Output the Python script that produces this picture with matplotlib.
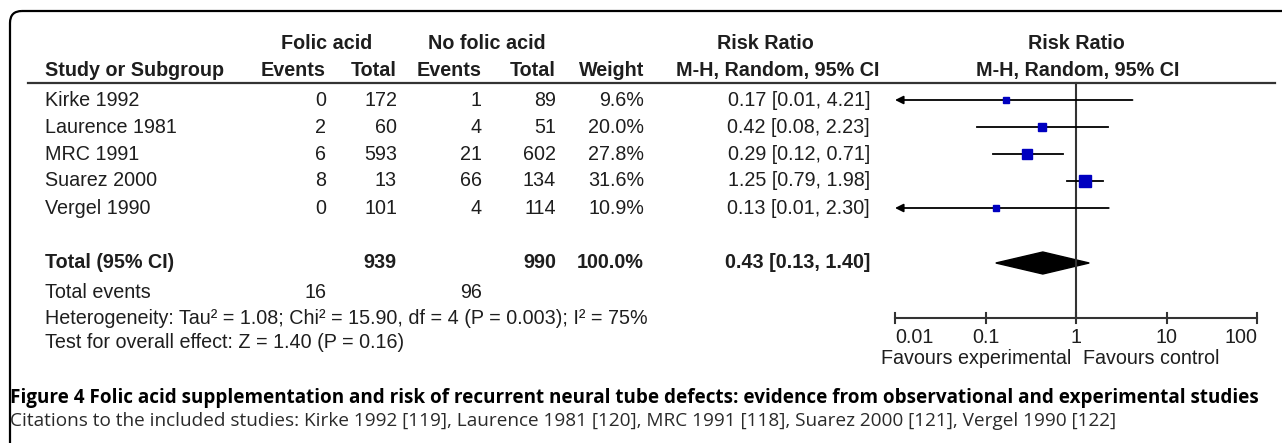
import matplotlib.pyplot as plt
from matplotlib.patches import FancyBboxPatch, Polygon

# study data
studies = ["Kirke 1992", "Laurence 1981", "MRC 1991", "Suarez 2000", "Vergel 1990"]
fa_events = [0, 2, 6, 8, 0]
fa_total = [172, 60, 593, 13, 101]
nofa_events = [1, 4, 21, 66, 4]
nofa_total = [89, 51, 602, 134, 114]
weights = [9.6, 20.0, 27.8, 31.6, 10.9]
rr = [0.17, 0.42, 0.29, 1.25, 0.13]
ci_low = [0.01, 0.08, 0.12, 0.79, 0.01]
ci_high = [4.21, 2.23, 0.71, 1.98, 2.30]

# pooled result
total_fa = 939
total_nofa = 990
total_weight = 100.0
total_rr = 0.43
total_low = 0.13
total_high = 1.40
events_fa = 16
events_nofa = 96
heterogeneity = "Heterogeneity: Tau\u00b2 = 1.08; Chi\u00b2 = 15.90, df = 4 (P = 0.003); I\u00b2 = 75%"
overall = "Test for overall effect: Z = 1.40 (P = 0.16)"

axis_ticks = [0.01, 0.1, 1, 10, 100]
tick_labels = ["0.01", "0.1", "1", "10", "100"]

caption_bold = ("Figure 4 Folic acid supplementation and risk of recurrent neural tube defects: "
                "evidence from observational and experimental studies")
caption_text = ("Citations to the included studies: Kirke 1992 [119], Laurence 1981 [120], "
                "MRC 1991 [118], Suarez 2000 [121], Vergel 1990 [122]")

W, H = 1282, 443
fig = plt.figure(figsize=(W / 100, H / 100), dpi=100)
bg = fig.add_axes([0, 0, 1, 1])
bg.set_xlim(0, W)
bg.set_ylim(H, 0)
bg.axis("off")

ink = "#1e1e1e"
fs = 14.2
font = "Liberation Sans"

# rounded frame (only top-left part is visible)
frame = FancyBboxPatch((10, 11), 1500, 700, boxstyle="round,pad=0,rounding_size=12",
                       fill=False, lw=1.6, ec="black")
bg.add_patch(frame)

# column anchors (right edges) and row positions
x_name = 45
x_ev1, x_tot1, x_ev2, x_tot2, x_w, x_rr = 326, 397, 482, 556, 644, 870
row_y = [100, 127, 154, 181, 208]
y_head1, y_head2, y_rule = 43, 70, 83
y_total, y_events, y_het, y_test = 263, 293, 319, 342


def txt(x, y, s, ha="left", bold=False, **kw):
    bg.text(x, y, s, ha=ha, va="center", fontsize=fs, family=font,
            fontweight="bold" if bold else "normal", color=ink, **kw)


# headers
txt(327, y_head1, "Folic acid", ha="center", bold=True)
txt(487, y_head1, "No folic acid", ha="center", bold=True)
txt(765, y_head1, "Risk Ratio", ha="center", bold=True)
txt(1076, y_head1, "Risk Ratio", ha="center", bold=True)
txt(x_name, y_head2, "Study or Subgroup", bold=True)
txt(x_ev1, y_head2, "Events", ha="right", bold=True)
txt(x_tot1, y_head2, "Total", ha="right", bold=True)
txt(x_ev2, y_head2, "Events", ha="right", bold=True)
txt(x_tot2, y_head2, "Total", ha="right", bold=True)
txt(x_w, y_head2, "Weight", ha="right", bold=True)
txt(778, y_head2, "M-H, Random, 95% CI", ha="center", bold=True)
txt(1078, y_head2, "M-H, Random, 95% CI", ha="center", bold=True)
bg.plot([28, 1275], [y_rule, y_rule], color="#333333", lw=1.6)

# study rows
for i, name in enumerate(studies):
    y = row_y[i]
    txt(x_name, y, name)
    txt(x_ev1, y, str(fa_events[i]), ha="right")
    txt(x_tot1, y, str(fa_total[i]), ha="right")
    txt(x_ev2, y, str(nofa_events[i]), ha="right")
    txt(x_tot2, y, str(nofa_total[i]), ha="right")
    txt(x_w, y, f"{weights[i]:.1f}%", ha="right")
    txt(x_rr, y, f"{rr[i]:.2f} [{ci_low[i]:.2f}, {ci_high[i]:.2f}]", ha="right")

# totals
txt(x_name, y_total, "Total (95% CI)", bold=True)
txt(x_tot1, y_total, str(total_fa), ha="right", bold=True)
txt(x_tot2, y_total, str(total_nofa), ha="right", bold=True)
txt(x_w, y_total, f"{total_weight:.1f}%", ha="right", bold=True)
txt(x_rr, y_total, f"{total_rr:.2f} [{total_low:.2f}, {total_high:.2f}]", ha="right", bold=True)
txt(x_name, y_events, "Total events")
txt(x_ev1, y_events, str(events_fa), ha="right")
txt(x_ev2, y_events, str(events_nofa), ha="right")
txt(x_name, y_het, heterogeneity)
txt(x_name, y_test, overall)

# forest plot panel
y_axis = 318
ax = fig.add_axes([895 / W, 1 - 332 / H, 362 / W, (332 - y_rule) / H])
ax.set_xscale("log")
ax.set_xlim(0.01, 100)
ax.set_ylim(332, y_rule)
ax.axis("off")

ax.plot([1, 1], [y_rule, y_axis], color="#333333", lw=1.5, clip_on=False)

for i in range(len(studies)):
    y = row_y[i]
    if ci_low[i] <= 0.01:
        ax.annotate("", xy=(0.01, y), xytext=(ci_high[i], y),
                    arrowprops=dict(arrowstyle="-|>", lw=1.3, color="black",
                                    mutation_scale=12, shrinkA=0, shrinkB=0),
                    annotation_clip=False)
    else:
        ax.plot([ci_low[i], ci_high[i]], [y, y], color="black", lw=1.3)
    side = (1.95 + 0.318 * weights[i]) * 0.72
    ax.plot(rr[i], y, marker="s", ms=side, color="#0000c0", mec="#0000c0", zorder=3)

# pooled diamond
ax.add_patch(Polygon([(total_low, y_total), (total_rr, y_total - 11),
                      (total_high, y_total), (total_rr, y_total + 11)],
                     closed=True, fc="black", ec="black", lw=1))

# log axis
ax.plot([axis_ticks[0], axis_ticks[-1]], [y_axis, y_axis], color="#333333", lw=1.5, clip_on=False)
for t, lab in zip(axis_ticks, tick_labels):
    ax.plot([t, t], [y_axis - 5, y_axis + 5], color="#333333", lw=1.5, clip_on=False)
    ha = "left" if t == axis_ticks[0] else ("right" if t == axis_ticks[-1] else "center")
    ax.text(t, y_axis + 20, lab, ha=ha, va="center", fontsize=fs, family=font, color=ink,
            clip_on=False)
ax.text(0.88, y_axis + 41, "Favours experimental", ha="right", va="center", fontsize=fs,
        family=font, color=ink, clip_on=False)
ax.text(1.2, y_axis + 41, "Favours control", ha="left", va="center", fontsize=fs,
        family=font, color=ink, clip_on=False)

# caption, sized to the widths seen in the reference
cap = bg.text(10, 398, caption_bold, ha="left", va="center", fontsize=13,
              family="Open Sans", fontweight="bold", color="black")
cit = bg.text(10, 421, caption_text, ha="left", va="center", fontsize=13,
              family="Open Sans", color="#2a2a2a")
for _ in range(3):
    fig.canvas.draw()
    r = fig.canvas.get_renderer()
    cap.set_fontsize(cap.get_fontsize() * 1248 / cap.get_window_extent(r).width)
    cit.set_fontsize(cit.get_fontsize() * 1105 / cit.get_window_extent(r).width)

fig.savefig("out.png", dpi=100)
